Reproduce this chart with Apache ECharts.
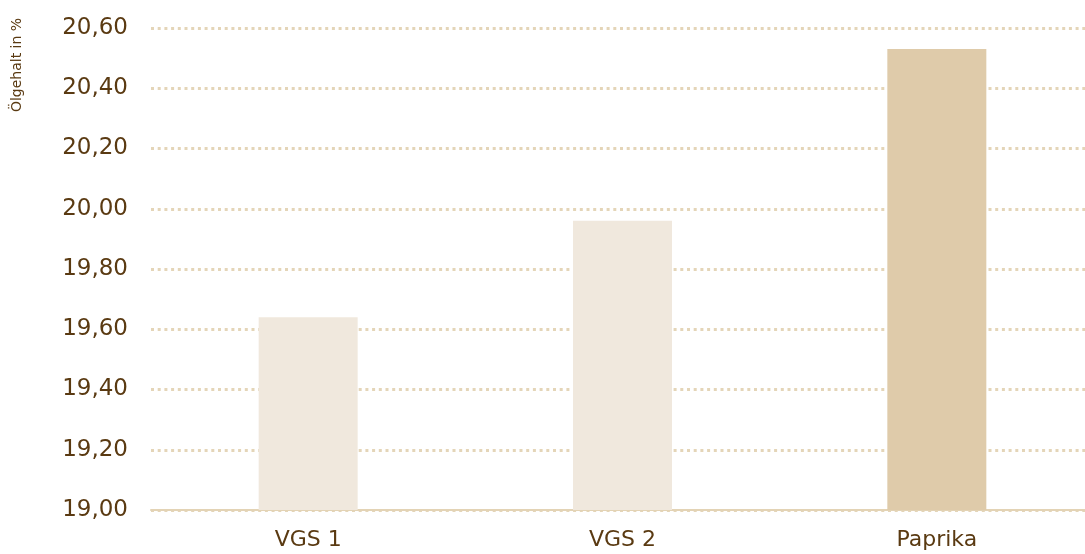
<!DOCTYPE html>
<html>
<head>
<meta charset="utf-8">
<script src="https://cdn.jsdelivr.net/npm/echarts@6/dist/echarts.min.js"></script>
<style>
  html, body { margin: 0; padding: 0; background: #fff; overflow: hidden; }
  /* a bit wider than the window: the plot runs past the right edge */
  #chart { width: 1094px; height: 554px; }
</style>
</head>
<body>
<div id="chart"></div>
<script>
// Chart data
const categories = ['VGS 1', 'VGS 2', 'Paprika'];
const oilContent = [19.64, 19.96, 20.53];
const barColors = ['#f0e8dd', '#f0e8dd', '#dfcbaa'];

const textColor = '#5a3a12';
const fontFamily = '"DejaVu Sans", sans-serif';

const myChart = echarts.init(document.getElementById('chart'));

const option = {
  animation: false,
  grid: { left: 151, top: 28, right: 0, bottom: 44 },
  graphic: [{
    type: 'text',
    x: 17,
    y: 65,
    rotation: Math.PI / 2,
    style: {
      text: 'Ölgehalt in %',
      fill: textColor,
      font: '14px ' + fontFamily,
      align: 'center',
      verticalAlign: 'middle'
    }
  }],
  xAxis: {
    type: 'category',
    data: categories,
    axisLine: { lineStyle: { color: '#e3d3b5', width: 2 } },
    axisTick: { show: false },
    axisLabel: { color: textColor, fontSize: 22, fontFamily: fontFamily, margin: 19 }
  },
  yAxis: {
    type: 'value',
    min: 19,
    max: 20.6,
    interval: 0.2,
    axisLine: { show: false },
    axisTick: { show: false },
    axisLabel: {
      color: textColor,
      fontSize: 23,
      fontFamily: fontFamily,
      margin: 23,
      formatter: v => v.toFixed(2).replace('.', ',')
    },
    splitLine: {
      lineStyle: { color: '#e4d5b8', type: [3, 3.7], width: 3 }
    }
  },
  series: [{
    type: 'bar',
    barWidth: 99,
    data: oilContent.map((v, i) => ({ value: v, itemStyle: { color: barColors[i] } }))
  }]
};

myChart.setOption(option);
</script>
</body>
</html>
